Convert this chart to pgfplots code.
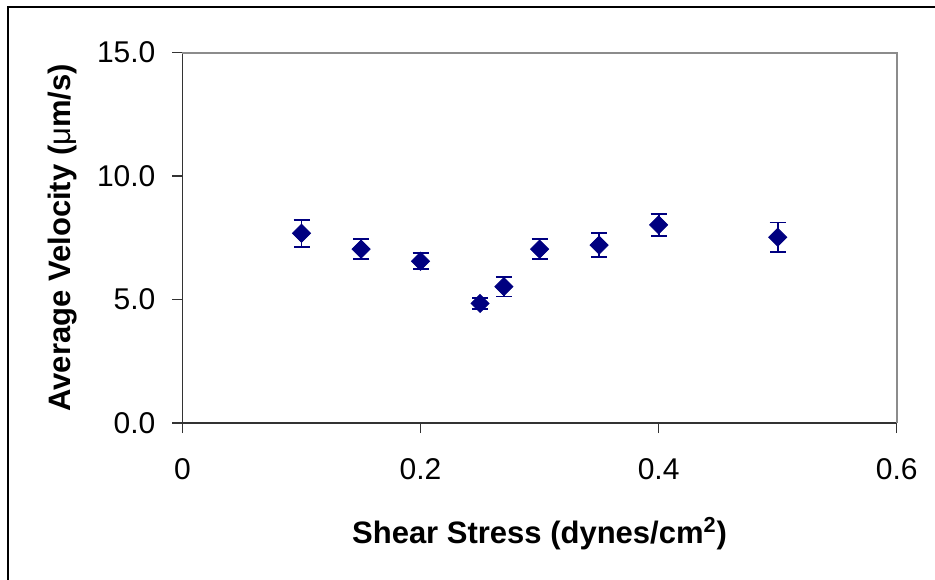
\documentclass[border=0pt]{standalone}
\usepackage{fontspec}
\setmainfont{Liberation Sans}
\usepackage{pgfplots}
\pgfplotsset{compat=1.18}
\definecolor{navy}{RGB}{0,0,128}
\definecolor{pgray}{RGB}{140,140,140}
\begin{document}
\begin{tikzpicture}
\path[use as bounding box] (-91.25pt,-78pt) rectangle (376.25pt,211.5pt);
\draw[line width=1pt, black] (-87.25pt,-80pt) -- (-87.25pt,208pt) -- (380pt,208pt);
\begin{axis}[
  scale only axis, width=357.1pt, height=185.25pt,
  xmin=0, xmax=0.6, ymin=0, ymax=15,
  xtick={0,0.2,0.4,0.6}, ytick={0,5,10,15},
  axis x line=bottom, axis y line=left,
  axis line style={-, draw=black!80, line width=0.6pt},
  tick align=outside, major tick length=5pt,
  tick style={draw=black!80, line width=0.6pt},
  /pgf/number format/assume math mode=true,
  tick label style={font=\fontsize{15pt}{18pt}\selectfont},
  xticklabel style={yshift=-9pt},
  yticklabel style={xshift=-5pt, /pgf/number format/fixed, /pgf/number format/fixed zerofill, /pgf/number format/precision=1},
  label style={font=\fontsize{15.5pt}{18pt}\selectfont\bfseries},
  xlabel={Shear Stress (dynes/cm\textsuperscript{2})},
  ylabel={Average Velocity ({\mdseries μ}m/s)},
  xlabel style={at={(axis description cs:0.5,-0.3239)}, anchor=base},
  ylabel style={at={(axis description cs:-0.1575,0.5)}, anchor=base},
  clip=false,
]
\draw[pgray, line width=1pt] (rel axis cs:0,1) -- (rel axis cs:1,1) -- (rel axis cs:1,0);
\addplot[only marks, navy, mark=square*, mark size=3.2pt,
  mark options={rotate=45, fill=navy, draw=navy},
  error bars/.cd, y dir=both, y explicit,
  error bar style={line width=0.9pt, navy},
  error mark options={rotate=90, mark size=4pt, line width=0.9pt, navy}]
  table[x=x, y=y, y error=e] {
x y e
0.10 7.68 0.55
0.15 7.04 0.41
0.20 6.55 0.33
0.25 4.84 0.21
0.27 5.52 0.40
0.30 7.04 0.41
0.35 7.20 0.48
0.40 8.02 0.45
0.50 7.52 0.60
};
\end{axis}
\end{tikzpicture}
\end{document}
